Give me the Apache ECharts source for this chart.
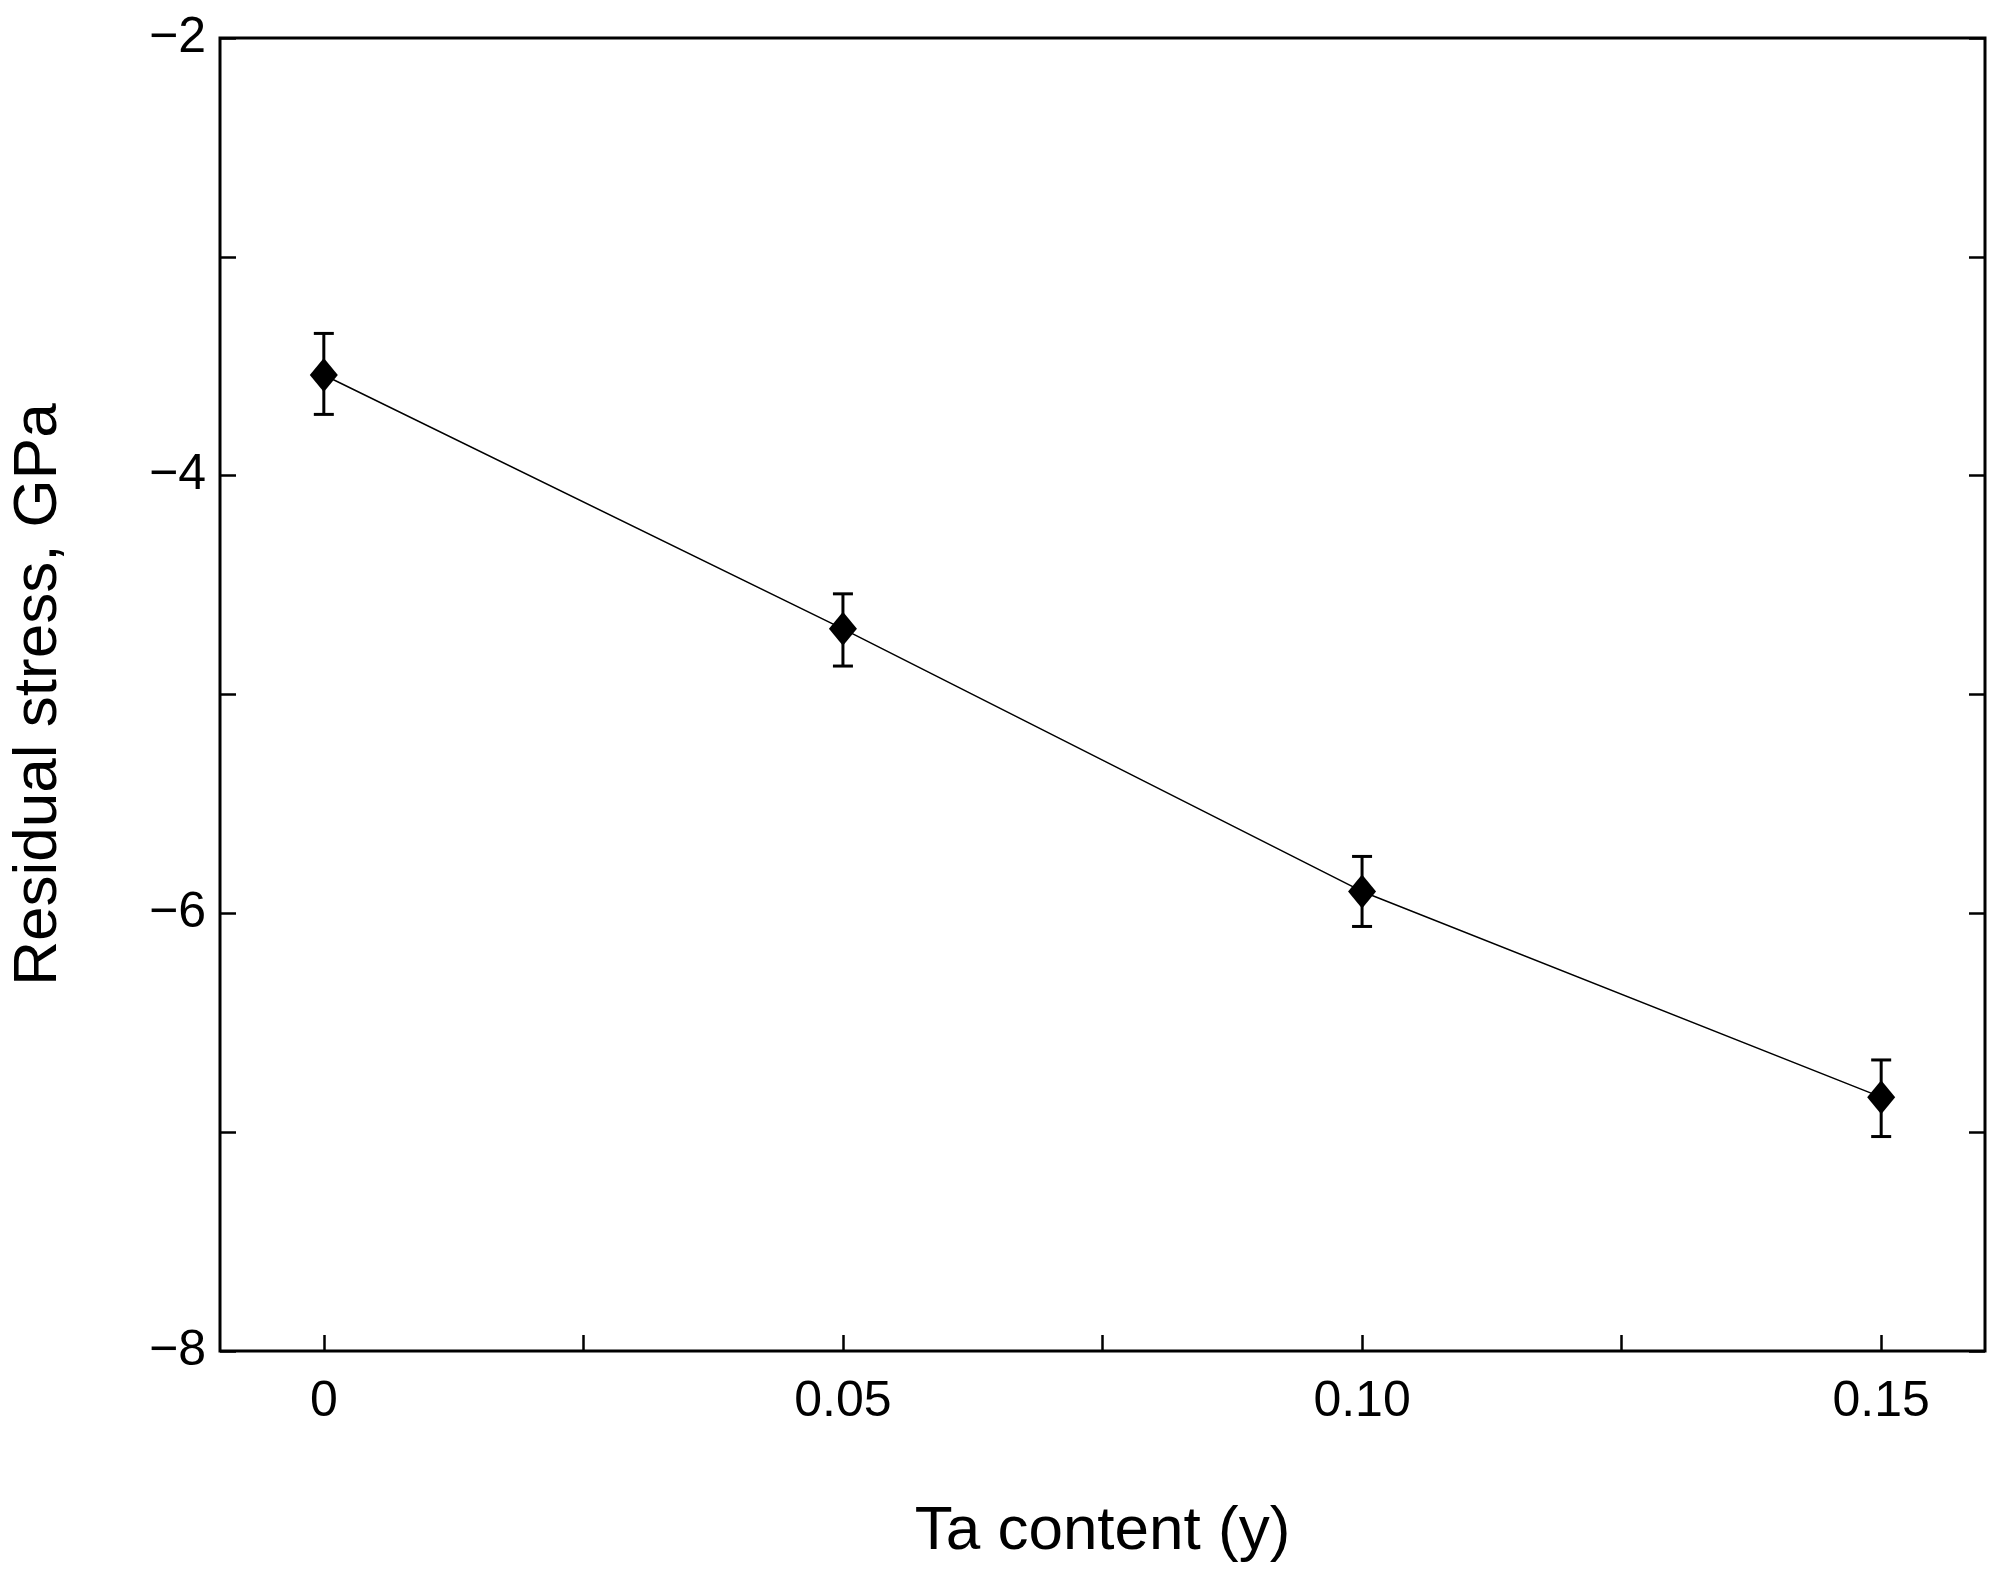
<!DOCTYPE html>
<html>
<head>
<meta charset="utf-8">
<script src="https://cdn.jsdelivr.net/npm/echarts@6/dist/echarts.min.js"></script>
<style>html,body{margin:0;background:#fff}#c{width:2008px;height:1578px}</style>
</head>
<body>
<div id="c"></div>
<script>
// values
const taContent = [0, 0.05, 0.10, 0.15]
const stress = [-3.54, -4.70, -5.90, -6.84]
const errLow = [-3.72, -4.87, -6.06, -7.02]
const errHigh = [-3.35, -4.54, -5.74, -6.67]
const xTickLabels = { '0': '0', '0.05': '0.05', '0.1': '0.10', '0.15': '0.15' }

const font = 'Liberation Sans, Arial, sans-serif'
const chart = echarts.init(document.getElementById('c'))

// outer frame spans -0.01..0.16, inner grid 0..0.15 so ticks start at 0
const L = 220, W = 1765, T = 38, H = 1313
const innerL = L + W * 0.01 / 0.17, innerW = W * 0.15 / 0.17

const yLabel = v => (v % 2 === 0 ? (v < 0 ? '\u2212' + (-v) : String(v)) : '')
const tickStyle = { color: '#000', width: 2.5 }

chart.setOption({
  animation: false,
  textStyle: { fontFamily: font },
  grid: [
    { left: L, top: T, width: W, height: H, show: true, borderColor: '#000', borderWidth: 3 },
    { left: innerL, top: T, width: innerW, height: H }
  ],
  xAxis: [
    {
      gridIndex: 0, type: 'value', min: -0.01, max: 0.16,
      axisLine: { show: false, onZero: false }, axisTick: { show: false }, axisLabel: { show: false }, splitLine: { show: false },
      name: 'Ta content (y)', nameLocation: 'middle', nameGap: 150,
      nameTextStyle: { fontSize: 62, color: '#000', fontFamily: font }
    },
    {
      gridIndex: 1, type: 'value', min: 0, max: 0.15, interval: 0.025,
      axisLine: { show: false, onZero: false }, splitLine: { show: false },
      axisTick: { inside: true, length: 16, lineStyle: tickStyle },
      axisLabel: {
        fontSize: 50, color: '#000', margin: 26, fontFamily: font,
        formatter: v => xTickLabels[String(+v.toFixed(3))] || ''
      }
    }
  ],
  yAxis: [
    {
      gridIndex: 0, type: 'value', min: -8, max: -2, interval: 1,
      axisLine: { show: false, onZero: false }, splitLine: { show: false },
      axisTick: { inside: true, length: 16, lineStyle: tickStyle },
      axisLabel: { fontSize: 50, color: '#000', margin: 14, formatter: yLabel, fontFamily: font },
      name: 'Residual stress, GPa', nameLocation: 'middle', nameGap: 150,
      nameTextStyle: { fontSize: 62, color: '#000', fontFamily: font }
    },
    {
      gridIndex: 0, type: 'value', min: -8, max: -2, interval: 1, position: 'right',
      axisLine: { show: false, onZero: false }, splitLine: { show: false }, axisLabel: { show: false },
      axisTick: { inside: true, length: 16, lineStyle: tickStyle }
    },
    {
      gridIndex: 1, type: 'value', min: -8, max: -2, show: false
    }
  ],
  series: [
    {
      type: 'line', xAxisIndex: 1, yAxisIndex: 2,
      data: taContent.map((x, i) => [x, stress[i]]),
      lineStyle: { color: '#000', width: 1.5 },
      symbol: 'diamond', symbolSize: [28, 34],
      itemStyle: { color: '#000' }, z: 3
    },
    {
      type: 'custom', xAxisIndex: 1, yAxisIndex: 2,
      data: taContent.map((x, i) => [x, errLow[i], errHigh[i]]),
      renderItem: (params, api) => {
        const lo = api.coord([api.value(0), api.value(1)])
        const hi = api.coord([api.value(0), api.value(2)])
        const c = 10
        const style = { stroke: '#000', lineWidth: 3 }
        return {
          type: 'group',
          children: [
            { type: 'line', shape: { x1: lo[0], y1: lo[1], x2: hi[0], y2: hi[1] }, style },
            { type: 'line', shape: { x1: lo[0] - c, y1: lo[1], x2: lo[0] + c, y2: lo[1] }, style },
            { type: 'line', shape: { x1: hi[0] - c, y1: hi[1], x2: hi[0] + c, y2: hi[1] }, style }
          ]
        }
      },
      z: 2
    }
  ]
})
</script>
</body>
</html>
